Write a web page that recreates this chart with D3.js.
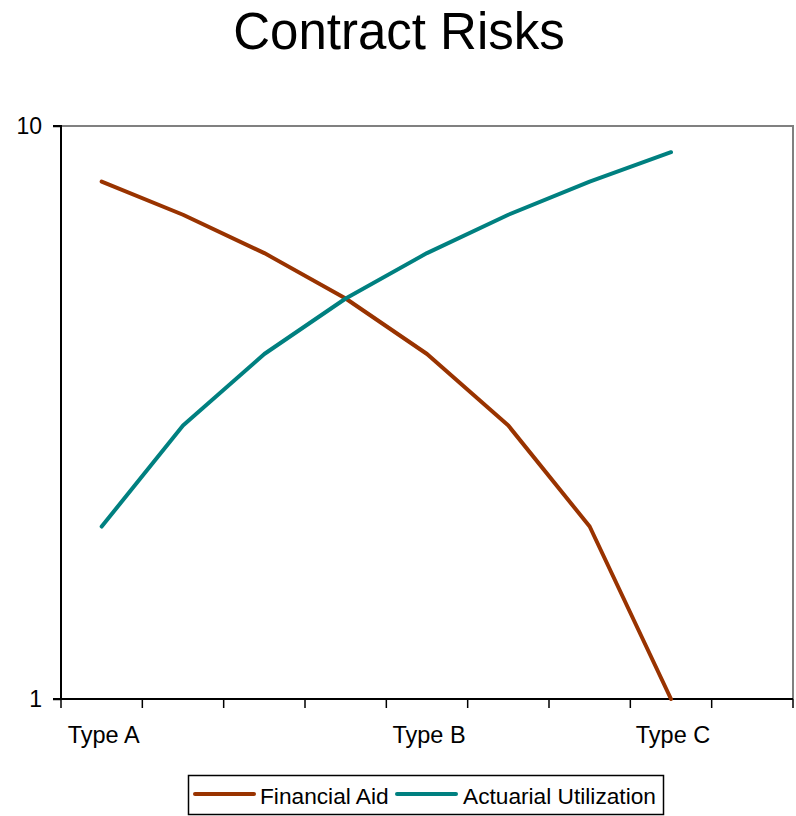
<!DOCTYPE html>
<html><head><meta charset="utf-8">
<script src="https://cdn.jsdelivr.net/npm/d3@7"></script>
<style>body{margin:0;background:#fff}svg{display:block}text{font-family:"Liberation Sans",Arial,sans-serif}</style>
</head><body>
<svg id="c" width="796" height="816"></svg>
<script>
const categories = ["c1","c2","c3","c4","c5","c6","c7","c8","c9"];
const tickLabels = ["Type A","","","","Type B","","","Type C",""];
const financialAid = [8,7,6,5,4,3,2,1];
const actuarialUtilization = [2,3,4,5,6,7,8,9];
const seriesNames = ["Financial Aid","Actuarial Utilization"];
const seriesColors = ["#993300","#008080"];
const yTicks = [1,10];

const svg = d3.select("#c");
const L=61, R=793, T=126, B=699;
const x = d3.scaleBand().domain(categories).range([L,R]);
const y = d3.scaleLog().domain([1,10]).range([B,T]);

svg.append("text").attr("x",399).attr("y",49).attr("text-anchor","middle")
  .attr("font-size",51).text("Contract Risks");

// plot frame (gray top/right)
svg.append("path").attr("d",`M${L},${T}H${R}V${B}`).attr("fill","none").attr("stroke","#808080").attr("stroke-width",2);

// y axis
const ya = svg.append("g").attr("transform",`translate(${L},0)`)
  .call(d3.axisLeft(y).tickValues(yTicks).tickFormat(d3.format("d")).tickSize(8).tickPadding(11));
ya.select(".domain").attr("stroke","#000").attr("stroke-width",2).attr("d",`M-8,${T}H0V${B}H-8`);
ya.selectAll(".tick line").attr("stroke","#000").attr("stroke-width",1.5);
ya.selectAll("text").attr("font-size",23).attr("fill","#000").attr("font-family","Liberation Sans, Arial, sans-serif");

// x axis: ticks at band boundaries
const xa = svg.append("g").attr("transform",`translate(0,${B})`);
xa.append("line").attr("x1",L).attr("x2",R).attr("stroke","#000").attr("stroke-width",2);
const bounds = categories.map(c=>x(c)).concat([x(categories[categories.length-1])+x.bandwidth()]);
xa.selectAll("line.tk").data(bounds).join("line").attr("class","tk")
  .attr("x1",d=>d).attr("x2",d=>d).attr("y1",0).attr("y2",9).attr("stroke","#000").attr("stroke-width",1.5);
xa.selectAll("text").data(categories).join("text")
  .attr("x",(d)=>x(d)+x.bandwidth()/2+2).attr("y",44).attr("text-anchor","middle")
  .attr("font-size",23.5).text((d,i)=>tickLabels[i]);

const line = d3.line().x((d,i)=>x(categories[i])+x.bandwidth()/2).y(d=>y(d));
[financialAid, actuarialUtilization].forEach((s,k)=>{
  svg.append("path").datum(s).attr("d",line).attr("fill","none")
    .attr("stroke",seriesColors[k]).attr("stroke-width",4).attr("stroke-linejoin","round").attr("stroke-linecap","round");
});

// legend
const lg = svg.append("g");
lg.append("rect").attr("x",188.5).attr("y",775.5).attr("width",475).attr("height",39)
  .attr("fill","#fff").attr("stroke","#000").attr("stroke-width",1.5);
const items = [{x:195,tx:260},{x:397,tx:463}];
items.forEach((it,k)=>{
  lg.append("line").attr("x1",it.x).attr("x2",it.x+59).attr("y1",794).attr("y2",794)
    .attr("stroke",seriesColors[k]).attr("stroke-width",4).attr("stroke-linecap","round");
  lg.append("text").attr("x",it.tx).attr("y",804).attr("font-size",22.7).text(seriesNames[k]);
});
</script>
</body></html>
